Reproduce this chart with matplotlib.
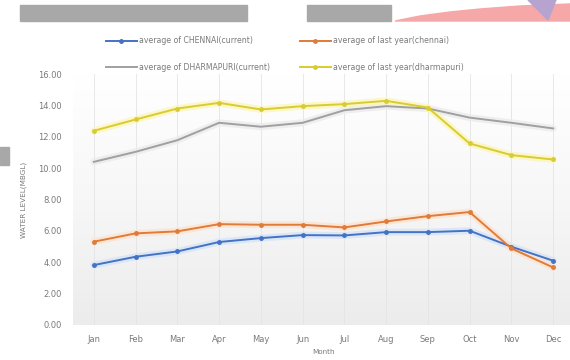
import matplotlib
matplotlib.use("Agg")
import matplotlib.pyplot as plt
import numpy as np
from matplotlib.patches import Rectangle, Polygon
from matplotlib.colors import LinearSegmentedColormap

months = ["Jan", "Feb", "Mar", "Apr", "May", "Jun", "Jul", "Aug", "Sep", "Oct", "Nov", "Dec"]
chennai_current = [3.82, 4.35, 4.69, 5.29, 5.54, 5.73, 5.71, 5.92, 5.92, 6.01, 4.99, 4.10]
chennai_last = [5.31, 5.84, 5.97, 6.43, 6.39, 6.39, 6.22, 6.60, 6.94, 7.20, 4.88, 3.67]
dharmapuri_current = [10.40, 11.04, 11.78, 12.89, 12.64, 12.89, 13.69, 13.95, 13.80, 13.22, 12.89, 12.53]
dharmapuri_last = [12.38, 13.10, 13.80, 14.16, 13.74, 13.95, 14.08, 14.29, 13.86, 11.57, 10.83, 10.55]
yticks = [0, 2, 4, 6, 8, 10, 12, 14, 16]

W, H = 570, 360
fig = plt.figure(figsize=(W / 100, H / 100), dpi=100)
fig.patch.set_facecolor("white")

# header decorations
deco = fig.add_axes([0, 0, 1, 1], zorder=0)
deco.set_xlim(0, W)
deco.set_ylim(H, 0)
deco.axis("off")
wave = [(395, 21), (420, 16), (450, 12), (480, 9), (520, 6), (570, 4), (570, 21)]
deco.add_patch(Polygon(wave, closed=True, color="#f6a7a8", zorder=1))
deco.add_patch(Polygon([(528, 0), (556, 0), (548, 20)], closed=True, color="#b7a3cf", zorder=3))
deco.add_patch(Rectangle((20, 5), 227, 16, color="#a8a8a8", zorder=3))
deco.add_patch(Rectangle((307, 5), 84, 16, color="#a8a8a8", zorder=3))
deco.add_patch(Rectangle((0, 147), 9, 18, color="#a8a8a8", zorder=3))

ax = fig.add_axes([73 / W, 1 - 325 / H, 501 / W, (325 - 74) / H], zorder=1)
ax.set_facecolor("none")
x = np.arange(len(months))

# plot-area gradient: light gray at the bottom fading to white at the top
grad = np.linspace(0, 1, 256).reshape(-1, 1)
cmap = LinearSegmentedColormap.from_list("pa", ["#ececec", "#f7f7f7", "#ffffff"])
ax.imshow(grad, aspect="auto", cmap=cmap, extent=[-0.5, 11.5, 0, 16], zorder=0, origin="lower")

for xi in x:
    ax.axvline(xi, color="#e4e4e4", lw=0.6, zorder=1)

series = [
    (chennai_current, "#4472c4", "#d6e4f7", "o", "average of CHENNAI(current)"),
    (dharmapuri_current, "#a0a0a0", "#ebebeb", None, "average of DHARMAPURI(current)"),
    (chennai_last, "#e07b39", "#fde3cf", "o", "average of last year(chennai)"),
    (dharmapuri_last, "#d8cc30", "#fbf6bc", "o", "average of last year(dharmapuri)"),
]
handles = []
for vals, col, glow, mk, lab in series:
    ax.plot(x, vals, color=glow, lw=5, alpha=0.8, solid_capstyle="round", zorder=2)
    h, = ax.plot(x, vals, color=col, lw=1.4, marker=mk, ms=2.5, label=lab, zorder=3)
    handles.append(h)

ax.set_xlim(-0.5, 11.5)
ax.set_ylim(0, 16)
ax.set_xticks(x)
ax.set_xticklabels(months)
ax.set_yticks(yticks)
ax.set_yticklabels([f"{v:.2f}" for v in yticks])
ax.tick_params(axis="both", length=0, labelsize=6, colors="#7a7a7a", pad=8)
ax.tick_params(axis="x", pad=7)
for s in ax.spines.values():
    s.set_visible(False)
ax.set_ylabel("WATER LEVEL(MBGL)", fontsize=5.2, color="#7a7a7a", labelpad=8)
ax.set_xlabel("Month", fontsize=5.2, color="#7a7a7a", labelpad=4)

leg = fig.legend(handles=handles, loc="center", bbox_to_anchor=(285 / W, 1 - 54 / H), ncol=2,
                 frameon=False, fontsize=5.6, handlelength=3.9, columnspacing=3.9,
                 labelspacing=2.2, handletextpad=0.3)
for t in leg.get_texts():
    t.set_color("#7a7a7a")

fig.savefig("out.png", dpi=100, facecolor="white")
